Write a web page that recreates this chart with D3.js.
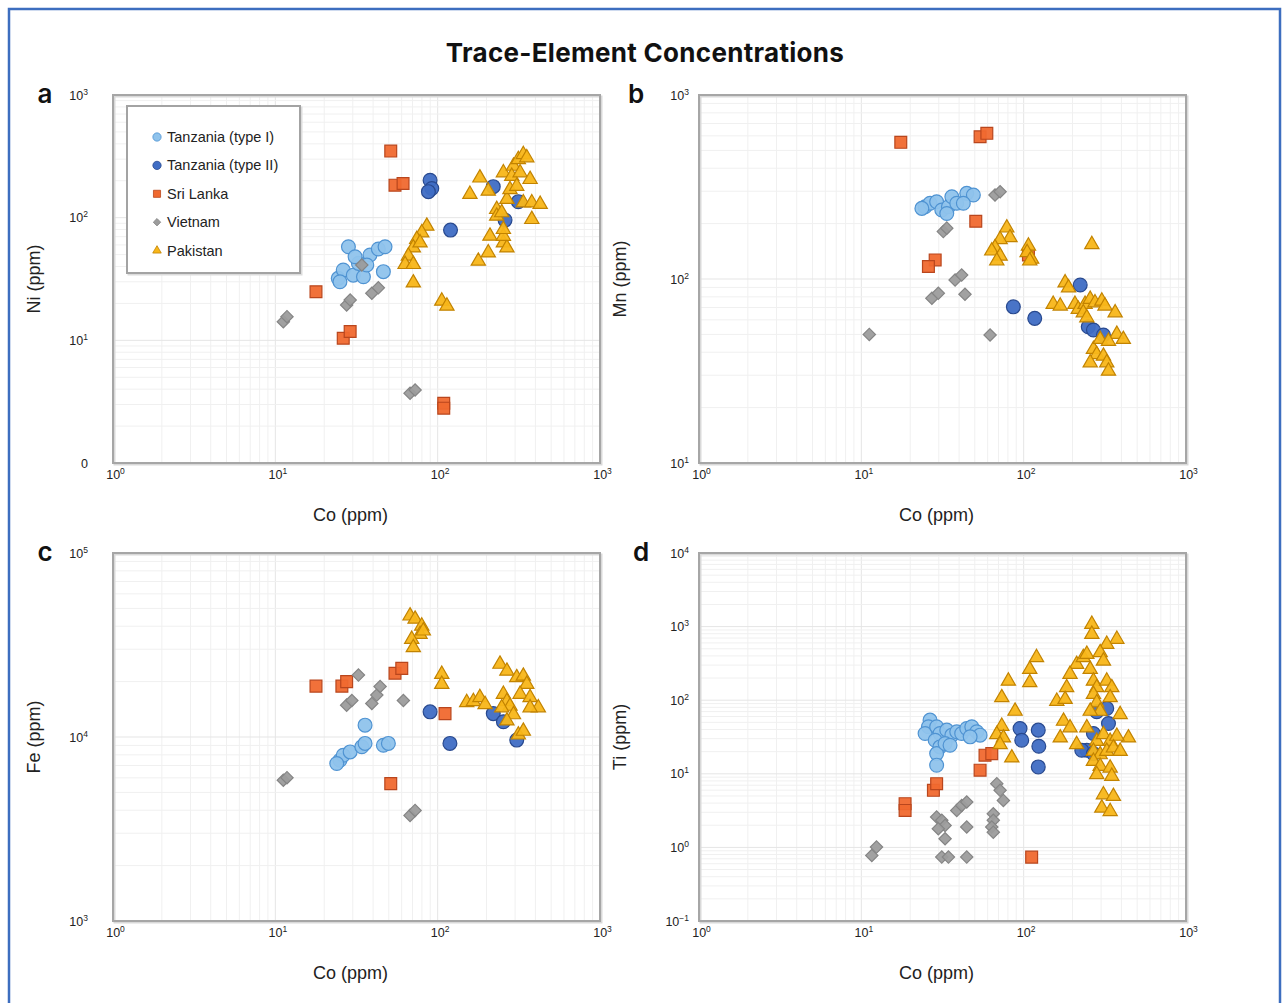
<!DOCTYPE html>
<html><head><meta charset="utf-8">
<script src="https://cdn.jsdelivr.net/npm/d3@7"></script>
<style>body{margin:0;background:#fff;} svg{display:block;}</style>
</head><body>
<svg id="chart" width="1282" height="1003"></svg>
<script>
// ---------------- DATA ----------------
const titleText = "Trace-Element Concentrations";
const seriesNames = ["Tanzania (type I)", "Tanzania (type II)", "Sri Lanka", "Vietnam", "Pakistan"];
const xLabel = "Co (ppm)";
const xTicks = [1, 10, 100, 1000];
const xTickLabels = [["10","0"],["10","1"],["10","2"],["10","3"]];

const yTicksA = [1, 10, 100, 1000];
const yTickLabelsA = [["0",""],["10","1"],["10","2"],["10","3"]];
const yTicksB = [10, 100, 1000];
const yTickLabelsB = [["10","1"],["10","2"],["10","3"]];
const yTicksC = [1000, 10000, 100000];
const yTickLabelsC = [["10","3"],["10","4"],["10","5"]];
const yTicksD = [0.1, 1, 10, 100, 1000, 10000];
const yTickLabelsD = [["10","\u22121"],["10","0"],["10","1"],["10","2"],["10","3"],["10","4"]];

// Panel a: Co vs Ni (ppm)
const aTanzaniaI = [[28.2,57.9],[24.4,32],[26.2,37.4],[30.2,34],[34.9,33],[32.5,42.4],[38.3,49.6],[43.1,55.5],[47.4,57.9],[46.3,36.3],[36.6,41.1],[25.0,30],[31.0,48]];
const aTanzaniaII = [[89.8,202],[92.0,173],[87.7,163],[120,79.2],[220,179],[314,135],[260,95.6]];
const aSriLanka = [[51.4,349],[54.6,184],[61.2,190],[17.8,24.9],[26.2,10.4],[28.9,11.8],[109,3.07],[109,2.8]];
const aVietnam = [[11.2,14.2],[11.8,15.6],[27.5,19.4],[28.9,21.3],[39.3,24.2],[43.1,26.8],[34.1,41.1],[67.6,3.7],[72.6,3.94]];
const aPakistan = [[85.7,87],[79.8,76.8],[74.3,67.8],[70.8,57.9],[66.0,49.6],[63.0,42.4],[70.8,42.4],[77.9,63.6],[70.8,30],[106,21.3],[114,19.4],[158,158],[182,215],[205,168],[210,72.1],[205,52.7],[178,45.1],[254,63.6],[267,57.9],[254,72],[231,119],[267,144],[279,173],[254,237],[293,268],[314,304],[337,334],[354,314],[286,222],[322,237],[371,209],[307,184],[337,135],[380,135],[428,131],[380,98.7],[231,105],[248,112],[254,81.8]];

// Panel b: Co vs Mn (ppm)
const bTanzaniaI = [[24.7,247],[26.5,258],[29.1,263],[31.3,237],[34.4,247],[36.1,280],[38.7,258],[44.6,292],[49.0,286],[42.5,258],[33.6,227],[23.6,242]];
const bTanzaniaII = [[86.4,70.6],[117,61.1],[223,92.7],[250,55],[269,52.8],[310,49.6]];
const bSriLanka = [[17.5,553],[53.9,593],[59.3,619],[50.7,206],[28.5,127],[25.9,117],[107,135]];
const bVietnam = [[11.2,50],[32.0,181],[33.6,189],[27.2,78.6],[29.8,83.6],[37.8,98.8],[41.5,105],[43.5,82.6],[66.6,286],[71.6,298],[62.1,49.6]];
const bPakistan = [[78.7,192],[82.4,170],[71.6,166],[66.6,150],[63.6,144],[71.6,135],[68.3,127],[107,153],[105,141],[112,130],[109,127],[263,156],[180,96.6],[189,90.8],[152,73.8],[168,72.3],[207,73.8],[217,69.3],[239,73.8],[257,78.6],[275,75.3],[303,76.9],[317,72.3],[366,66.4],[233,66.4],[245,62.4],[375,50.7],[411,47.6],[269,42],[282,39.4],[310,38.6],[325,35.5],[333,32],[296,47.6],[333,46.5],[257,35.5]];

// Panel c: Co vs Fe (ppm)
const cTanzaniaI = [[35.7,11600],[25.0,7480],[26.2,7960],[28.9,8300],[34.1,8850],[35.7,9230],[46.3,9020],[49.7,9230],[23.9,7180]];
const cTanzaniaII = [[89.8,13700],[119,9230],[220,13400],[254,12100],[307,9620]];
const cSriLanka = [[17.8,18900],[25.7,18900],[27.5,20000],[54.6,22200],[60.1,23600],[111,13400],[51.4,5580]];
const cVietnam = [[11.2,5820],[11.8,6010],[27.5,14900],[29.6,15800],[32.5,21700],[39.3,15200],[42.2,16900],[44.2,18800],[61.5,15800],[67.6,3750],[72.6,3990]];
const cPakistan = [[67.6,46100],[72.6,44300],[79.8,40600],[77.9,36600],[81.6,38200],[69.2,34400],[70.8,31000],[106,22200],[106,19600],[151,15600],[166,15800],[182,16600],[196,15200],[242,25200],[267,23100],[307,21300],[337,21700],[354,19600],[254,17300],[267,15800],[279,14900],[248,14600],[322,17300],[371,16600],[417,14600],[371,14600],[293,13400],[267,12400],[314,10400],[337,10900]];

// Panel d: Co vs Ti (ppm)
const dTanzaniaI = [[26.5,53.6],[25.9,43.6],[24.7,35.3],[29.1,43.6],[30.5,35.3],[28.5,28.6],[30.5,23.2],[29.1,18.8],[29.1,13.1],[33.6,39.2],[36.1,33.5],[38.7,37.2],[41.5,35.3],[44.6,41.3],[47.9,43.6],[51.4,37.2],[53.9,33.5],[46.8,31.8],[32.8,25.8],[35.2,24.4]];
const dTanzaniaII = [[95.0,41.3],[97.3,28.6],[123,39.2],[124,23.7],[123,12.4],[282,69.7],[325,77.3],[269,35.3],[245,20.9],[228,20.9],[269,18.8],[333,48.3]];
const dSriLanka = [[18.6,3.93],[18.6,3.18],[27.8,5.96],[29.1,7.35],[53.9,11.2],[57.8,17.9],[63.6,18.8],[112,0.738]];
const dVietnam = [[11.6,0.776],[12.4,1.01],[29.1,2.59],[31.3,2.33],[32.8,1.99],[29.8,1.79],[32.8,1.31],[31.3,0.738],[34.4,0.738],[38.7,3.18],[41.5,3.72],[44.6,4.14],[44.6,1.89],[44.6,0.738],[65.0,2.87],[65.0,2.33],[63.6,1.89],[65.0,1.61],[68.3,7.35],[71.6,5.96],[75.0,4.35]];
const dPakistan = [[263,1110],[263,813],[375,696],[325,594],[120,392],[109,271],[109,179],[80.5,188],[73.3,112],[88.5,73.3],[73.3,45.8],[68.3,35.3],[75.0,31.8],[71.6,25.8],[84.5,17],[212,317],[233,392],[245,434],[296,458],[310,352],[193,232],[184,153],[160,100],[180,106],[257,271],[269,188],[282,153],[325,188],[349,153],[341,112],[269,124],[282,95.5],[296,73.3],[257,73.3],[393,66.1],[442,31.8],[176,53.6],[168,31.8],[193,43.6],[212,25.8],[245,43.6],[282,28.6],[310,35.3],[341,28.6],[375,33.5],[269,20.9],[296,18.8],[325,20.9],[357,23.2],[393,20.9],[269,15.3],[296,13.1],[341,12.4],[282,10.1],[349,9.55],[310,5.37],[357,5.1],[303,3.54],[341,3.18]];

// ---------------- STYLE / LAYOUT ----------------
const seriesStyle = [
  {shape:"circle",   fill:"#8fc3ec", stroke:"#4f93d2"},
  {shape:"circle",   fill:"#3f6dc4", stroke:"#28498f"},
  {shape:"square",   fill:"#f0692f", stroke:"#b9461d"},
  {shape:"diamond",  fill:"#9c9c9c", stroke:"#858585"},
  {shape:"triangle", fill:"#f8b619", stroke:"#c28300"}
];

const panels = [
  {letter:"a", left:113, top:95, w:487, h:368, yDomain:[1,1000], yTicks:yTicksA, yTickLabels:yTickLabelsA, yLabel:"Ni (ppm)", labelGap:25, yTitleX:40,
   series:[aTanzaniaI,aTanzaniaII,aSriLanka,aVietnam,aPakistan], legend:true, letterX:45},
  {letter:"b", left:699, top:95, w:487, h:368, yDomain:[10,1000], yTicks:yTicksB, yTickLabels:yTickLabelsB, yLabel:"Mn (ppm)", labelGap:10, yTitleX:626,
   series:[bTanzaniaI,bTanzaniaII,bSriLanka,bVietnam,bPakistan], legend:false, letterX:636},
  {letter:"c", left:113, top:553, w:487, h:368, yDomain:[1000,100000], yTicks:yTicksC, yTickLabels:yTickLabelsC, yLabel:"Fe (ppm)", labelGap:25, yTitleX:40,
   series:[cTanzaniaI,cTanzaniaII,cSriLanka,cVietnam,cPakistan], legend:false, letterX:45},
  {letter:"d", left:699, top:553, w:487, h:368, yDomain:[0.1,10000], yTicks:yTicksD, yTickLabels:yTickLabelsD, yLabel:"Ti (ppm)", labelGap:10, yTitleX:626,
   series:[dTanzaniaI,dTanzaniaII,dSriLanka,dVietnam,dPakistan], legend:false, letterX:641}
];

const svg = d3.select("#chart");
const sansFont = "'Liberation Sans', Arial, Helvetica, sans-serif";
const headFont = "Inter, Lato, 'Open Sans', sans-serif";

// outer frame
svg.append("rect").attr("x",9).attr("y",9).attr("width",1271).attr("height",1030)
  .attr("fill","none").attr("stroke","#3d6ebf").attr("stroke-width",2.5);

svg.append("text").attr("x",645).attr("y",62).attr("text-anchor","middle")
  .attr("font-family",headFont).attr("font-weight",700).attr("font-size",26).attr("letter-spacing",0.3).attr("fill","#111")
  .text(titleText);

function symbolPath(shape, scale) {
  const s = scale || 1;
  if (shape === "circle") return d3.symbol(d3.symbolCircle, 150*s*s)();
  if (shape === "square") return d3.symbol(d3.symbolSquare, 140*s*s)();
  if (shape === "diamond") return d3.symbol(d3.symbolSquare, 76*s*s)();
  return d3.symbol(d3.symbolTriangle, 88*s*s)();
}

function decadeGrid(domain) {
  const vals = [];
  const lo = Math.round(Math.log10(domain[0])), hi = Math.round(Math.log10(domain[1]));
  for (let e = lo; e < hi; e++) for (let m = 1; m <= 9; m++) vals.push({v: m*Math.pow(10,e), major: m===1});
  vals.push({v: Math.pow(10,hi), major:true});
  return vals;
}

panels.forEach(p => {
  const g = svg.append("g");
  const x = d3.scaleLog().domain([1,1000]).range([p.left, p.left + p.w]);
  const y = d3.scaleLog().domain(p.yDomain).range([p.top + p.h, p.top]);

  // background grid
  const grid = g.append("g");
  decadeGrid([1,1000]).forEach(d => {
    grid.append("line").attr("x1",x(d.v)).attr("x2",x(d.v)).attr("y1",p.top).attr("y2",p.top+p.h)
      .attr("stroke", d.major ? "#e5e5e5" : "#f0f0f0").attr("stroke-width",1);
  });
  decadeGrid(p.yDomain).forEach(d => {
    grid.append("line").attr("y1",y(d.v)).attr("y2",y(d.v)).attr("x1",p.left).attr("x2",p.left+p.w)
      .attr("stroke", d.major ? "#e5e5e5" : "#f0f0f0").attr("stroke-width",1);
  });

  // frame (with soft shadow)
  g.append("rect").attr("x",p.left+1.5).attr("y",p.top+1.5).attr("width",p.w).attr("height",p.h)
    .attr("fill","none").attr("stroke","#d9d9d9").attr("stroke-width",2);
  g.append("rect").attr("x",p.left).attr("y",p.top).attr("width",p.w).attr("height",p.h)
    .attr("fill","none").attr("stroke","#a6a6a6").attr("stroke-width",2);

  // points
  p.series.forEach((data, si) => {
    const st = seriesStyle[si];
    g.append("g").selectAll("path").data(data).join("path")
      .attr("d", symbolPath(st.shape))
      .attr("transform", d => `translate(${x(d[0])},${y(d[1])})` + (st.shape==="diamond" ? " rotate(45)" : "") + (st.shape==="triangle" ? " translate(0,1)" : ""))
      .attr("fill", st.fill).attr("stroke", st.stroke).attr("stroke-width", 1.2).attr("fill-opacity",0.95);
  });

  // x axis
  const xAxis = d3.axisBottom(x).tickValues(xTicks).tickSize(0).tickPadding(7).tickFormat(() => "");
  const xg = g.append("g").attr("transform",`translate(0,${p.top+p.h})`).call(xAxis);
  xg.select(".domain").remove();
  xg.selectAll(".tick text").each(function(d,i){
    const t = d3.select(this).attr("font-family",sansFont).attr("font-size",12.5).attr("fill","#222").attr("dx",2);
    t.append("tspan").text(xTickLabels[i][0]);
    t.append("tspan").attr("dy",-5).attr("font-size",8.5).text(xTickLabels[i][1]);
  });

  // y axis
  const yAxis = d3.axisLeft(y).tickValues(p.yTicks).tickSize(0).tickPadding(p.labelGap).tickFormat(() => "");
  const yg = g.append("g").attr("transform",`translate(${p.left},0)`).call(yAxis);
  yg.select(".domain").remove();
  yg.selectAll(".tick text").each(function(d,i){
    const lab = p.yTickLabels[i];
    const t = d3.select(this).attr("font-family",sansFont).attr("font-size",12.5).attr("fill","#222");
    t.append("tspan").text(lab[0]);
    if (lab[1]) t.append("tspan").attr("dy",-5).attr("font-size",8.5).text(lab[1]);
  });

  // axis titles
  g.append("text").attr("x", p.left + p.w/2 - 6).attr("y", p.top + p.h + 58).attr("text-anchor","middle")
    .attr("font-family",sansFont).attr("font-size",18).attr("fill","#222").text(xLabel);
  g.append("text").attr("transform",`translate(${p.yTitleX},${p.top + p.h/2}) rotate(-90)`).attr("text-anchor","middle")
    .attr("font-family",sansFont).attr("font-size",18).attr("fill","#222").text(p.yLabel);

  // panel letter
  g.append("text").attr("x",p.letterX).attr("y",p.top+8).attr("text-anchor","middle")
    .attr("font-family",headFont).attr("font-weight",600).attr("font-size",26).attr("fill","#111").text(p.letter);

  // legend
  if (p.legend) {
    const lg = g.append("g");
    lg.append("rect").attr("x",p.left+15.5).attr("y",p.top+12.5).attr("width",173).attr("height",167)
      .attr("fill","none").attr("stroke","#dcdcdc").attr("stroke-width",2);
    lg.append("rect").attr("x",p.left+14).attr("y",p.top+11).attr("width",173).attr("height",167)
      .attr("fill","#fff").attr("stroke","#a3a3a3").attr("stroke-width",2);
    seriesNames.forEach((name, i) => {
      const st = seriesStyle[i];
      const cy = p.top + 42 + i*28.4;
      lg.append("path").attr("d", symbolPath(st.shape, 0.6))
        .attr("transform", `translate(${p.left+44},${cy})` + (st.shape==="diamond" ? " rotate(45)" : ""))
        .attr("fill", st.fill).attr("stroke", st.stroke).attr("stroke-width",0.8);
      lg.append("text").attr("x",p.left+54).attr("y",cy+5).attr("font-family",sansFont)
        .attr("font-size",14.5).attr("fill","#222").text(name);
    });
  }
});
</script>
</body></html>
